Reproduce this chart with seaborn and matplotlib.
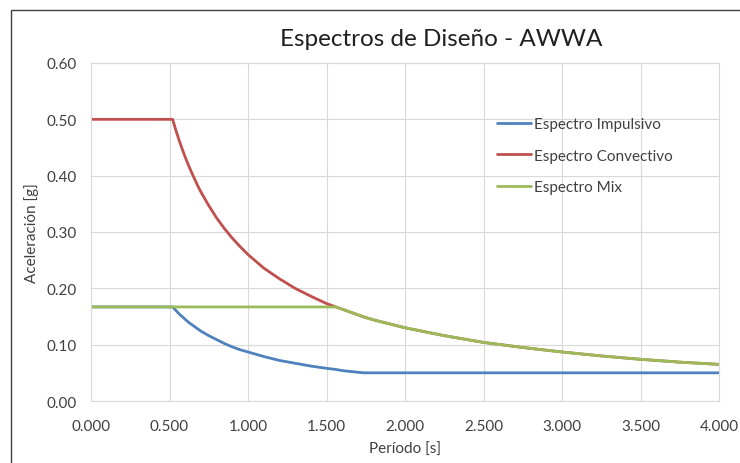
import matplotlib
matplotlib.use("Agg")
import matplotlib.pyplot as plt
import seaborn as sns
import pandas as pd
from matplotlib.patches import Rectangle

periodo = [0.00, 0.52, 0.54, 0.56, 0.58, 0.60, 0.62, 0.65, 0.68, 0.70, 0.75, 0.80,
           0.85, 0.90, 0.95, 1.00, 1.10, 1.20, 1.30, 1.40, 1.50, 1.56, 1.60, 1.70,
           1.74, 1.80, 2.00, 2.25, 2.50, 2.75, 3.00, 3.25, 3.50, 3.75, 4.00]
impulsivo = [0.167, 0.167, 0.161, 0.155, 0.150, 0.145, 0.140, 0.134, 0.128, 0.124,
             0.116, 0.109, 0.102, 0.096, 0.091, 0.087, 0.079, 0.072, 0.067, 0.062,
             0.058, 0.056, 0.054, 0.051, 0.050, 0.050, 0.050, 0.050, 0.050, 0.050,
             0.050, 0.050, 0.050, 0.050, 0.050]
convectivo = [0.500, 0.500, 0.481, 0.464, 0.448, 0.433, 0.419, 0.400, 0.382, 0.371,
              0.347, 0.325, 0.306, 0.289, 0.274, 0.260, 0.236, 0.217, 0.200, 0.186,
              0.173, 0.167, 0.163, 0.153, 0.149, 0.144, 0.130, 0.116, 0.104, 0.095,
              0.087, 0.080, 0.074, 0.069, 0.065]
mix = [0.167, 0.167, 0.167, 0.167, 0.167, 0.167, 0.167, 0.167, 0.167, 0.167,
       0.167, 0.167, 0.167, 0.167, 0.167, 0.167, 0.167, 0.167, 0.167, 0.167,
       0.167, 0.167, 0.163, 0.153, 0.149, 0.144, 0.130, 0.116, 0.104, 0.095,
       0.087, 0.080, 0.074, 0.069, 0.065]
series = ["Espectro Impulsivo", "Espectro Convectivo", "Espectro Mix"]
colores = ["#4f81bd", "#c0504d", "#9bbb59"]
xticks = [0.0, 0.5, 1.0, 1.5, 2.0, 2.5, 3.0, 3.5, 4.0]
yticks = [0.0, 0.1, 0.2, 0.3, 0.4, 0.5, 0.6]

sns.set_style("white")
plt.rcParams['font.family'] = ['Lato', 'DejaVu Sans']

n = len(periodo)
df = pd.DataFrame({"T": periodo * 3,
                   "A": impulsivo + convectivo + mix,
                   "serie": [series[0]] * n + [series[1]] * n + [series[2]] * n})

fig = plt.figure(figsize=(7.4, 4.64), dpi=100)
ax = fig.add_axes([91/740, 1 - 402/464, (719 - 91)/740, (402 - 64)/464])

sns.lineplot(data=df, x="T", y="A", hue="serie", hue_order=series,
             palette=colores, linewidth=2.0, ax=ax, sort=False, estimator=None)

ax.set_xlim(0, 4)
ax.set_ylim(0, 0.6)
ax.set_xticks(xticks)
ax.set_yticks(yticks)
ax.set_xticklabels([f"{v:.3f}" for v in xticks])
ax.set_yticklabels([f"{v:.2f}" for v in yticks])
ax.tick_params(axis='both', labelsize=11, colors="#404040", length=0)
ax.tick_params(axis='x', pad=13)
ax.tick_params(axis='y', pad=10)
ax.grid(True, color="#d9d9d9", linewidth=0.8)
ax.set_axisbelow(True)
for s in ax.spines.values():
    s.set_color("#d9d9d9")
    s.set_linewidth(0.8)

ax.set_xlabel("Período [s]", fontsize=11, color="#404040", labelpad=6)
ax.set_ylabel("Aceleración [g]", fontsize=11, color="#404040", labelpad=6)
fig.text(441/740, 1 - 40/464, "Espectros de Diseño - AWWA", fontsize=17.5,
         color="#202020", ha="center", va="center")

leg = ax.legend(loc="upper left", bbox_to_anchor=((497 - 91)/628, 1 - (118 - 64)/338),
                frameon=False, fontsize=11, handlelength=2.25, handletextpad=0.15,
                labelspacing=1.15, borderaxespad=0, borderpad=0)
for t in leg.get_texts():
    t.set_color("#404040")

fig.patches.append(Rectangle((11/740, -0.1), 1.2, 1 - 11/464 + 0.1,
                             transform=fig.transFigure, fill=False,
                             edgecolor="#404040", linewidth=1.0))

fig.savefig("out.png", dpi=100)
